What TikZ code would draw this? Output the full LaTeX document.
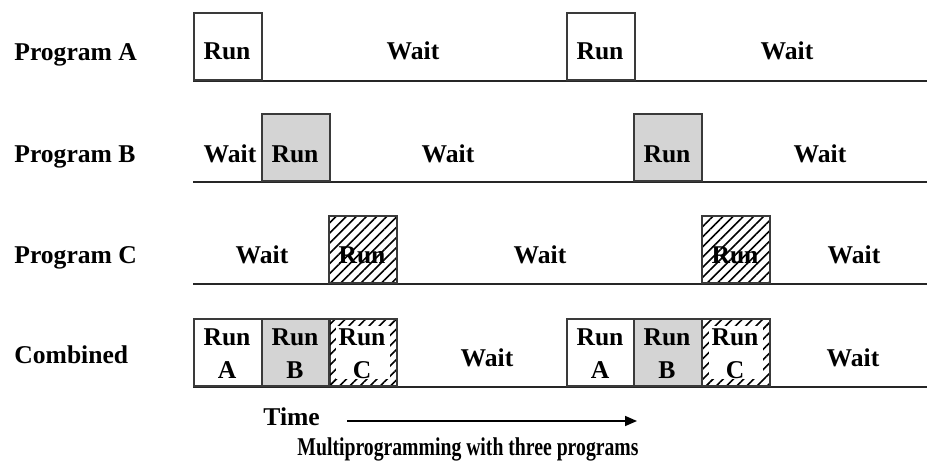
\documentclass[tikz,border=0pt]{standalone}
\usepackage{fontspec}
\setmainfont{Liberation Serif}
\usetikzlibrary{positioning,arrows.meta,patterns.meta}
\definecolor{RunGrey}{HTML}{D4D4D4}
\definecolor{EdgeGrey}{HTML}{3A3A3A}

\begin{document}
\begin{tikzpicture}[x=0.5pt,y=-0.5pt,
  slot/.style={rectangle, draw=EdgeGrey, line width=1pt, inner sep=0pt,
               minimum width=34pt, minimum height=33.5pt, anchor=south west},
  slotB/.style={slot, fill=RunGrey},
  slotC/.style={slot, pattern={Lines[angle=45,distance=3.6pt,line width=0.8pt]}},
  hole/.style={rectangle, fill=white, inner sep=0pt,
               minimum width=27pt, minimum height=26.5pt},
  txt/.style={font=\fontsize{12.8}{15}\selectfont\bfseries, anchor=base, inner sep=0pt},
  prog/.style={txt, anchor=base west},
  track/.style={line width=1pt, draw=black!85},
  arr/.style={-{Triangle[length=6pt,width=5pt]}, line width=0.8pt}
]
  \useasboundingbox (0,0) rectangle (927,471);

  % row labels
  \node[prog] (lA) at (14,61)  {Program A};
  \node[prog] (lB) at (14,162) {Program B};
  \node[prog] (lC) at (14,263) {Program C};
  \node[prog] (lD) at (14,363) {Combined};

  % time lines
  \coordinate (tA0) at (193,81);  \coordinate (tA1) at (927,81);
  \coordinate (tB0) at (193,182); \coordinate (tB1) at (927,182);
  \coordinate (tC0) at (193,284); \coordinate (tC1) at (927,284);
  \coordinate (tD0) at (193,387); \coordinate (tD1) at (927,387);
  \draw[track] (tA0) -- (tA1);
  \draw[track] (tB0) -- (tB1);
  \draw[track] (tC0) -- (tC1);
  \draw[track] (tD0) -- (tD1);

  % Program A
  \node[slot] (a1) at (193,81) {};
  \node[slot] (a2) at (566,81) {};
  \node[txt] (a1r) at (227,60) {Run};
  \node[txt] (a1w) at (413,60) {Wait};
  \node[txt] (a2r) at (600,60) {Run};
  \node[txt] (a2w) at (787,60) {Wait};

  % Program B
  \node[slotB] (b1) at (261,182) {};
  \node[slotB] (b2) at (633,182) {};
  \node[txt] (b0w) at (230,162) {Wait};
  \node[txt] (b1r) at (295,162) {Run};
  \node[txt] (b1w) at (448,162) {Wait};
  \node[txt] (b2r) at (667,162) {Run};
  \node[txt] (b2w) at (820,162) {Wait};

  % Program C
  \node[slotC] (c1) at (328,284) {};
  \node[slotC] (c2) at (701,284) {};
  \node[txt] (c0w) at (262,263) {Wait};
  \node[txt] (c1r) at (362,263) {Run};
  \node[txt] (c1w) at (540,263) {Wait};
  \node[txt] (c2r) at (735,263) {Run};
  \node[txt] (c2w) at (854,263) {Wait};

  % Combined
  \node[slot]  (d1) at (193,387) {};
  \node[slotB] (d2) at (261,387) {};
  \node[slotC] (d3) at (328,387) {};
  \node[slot]  (d4) at (566,387) {};
  \node[slotB] (d5) at (633,387) {};
  \node[slotC] (d6) at (701,387) {};
  \node[hole] (d3h) at (d3.center) {};
  \node[hole] (d6h) at (d6.center) {};
  \foreach \x/\l [count=\i] in {227/A,295/B,362/C,600/A,667/B,735/C}{
    \node[txt] (dr\i) at (\x,345) {Run};
    \node[txt] (dl\i) at (\x,378) {\l};
  }
  \node[txt] (d1w) at (487,366) {Wait};
  \node[txt] (d2w) at (853,366) {Wait};

  % time axis and caption
  \node[prog] (time) at (263,425) {Time};
  \coordinate (ax0) at (347,421);
  \coordinate (ax1) at (637,421);
  \draw[arr] (ax0) -- (ax1);
  \node[txt] (cap) at (468,455)
    {\scalebox{0.77}[1]{Multiprogramming with three programs}};
\end{tikzpicture}
\end{document}
